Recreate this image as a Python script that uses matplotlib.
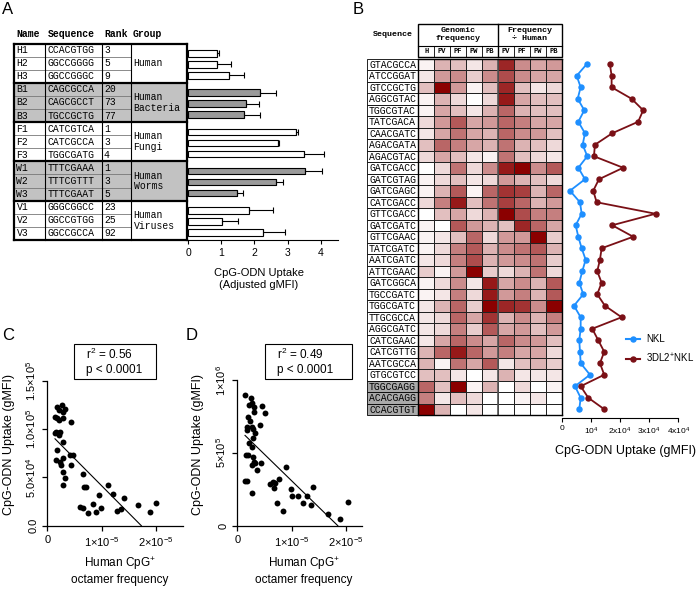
import matplotlib.pyplot as plt
import numpy as np
from matplotlib.patches import Rectangle
from matplotlib.colors import LinearSegmentedColormap
from matplotlib.lines import Line2D

plt.rcParams['font.family'] = ['Liberation Sans', 'DejaVu Sans']
plt.rcParams['mathtext.fontset'] = 'custom'
plt.rcParams['mathtext.rm'] = 'Liberation Sans'
plt.rcParams['mathtext.default'] = 'regular'
MONO = 'Liberation Mono'

# ---------------- Panel A data
names = ["H1", "H2", "H3", "B1", "B2", "B3", "F1", "F2", "F3",
         "W1", "W2", "W3", "V1", "V2", "V3"]
sequences = ["CCACGTGG", "GGCCGGGG", "GGCCGGGC", "CAGCGCCA", "CAGCGCCT", "TGCCGCTG",
             "CATCGTCA", "CATCGCCA", "TGGCGATG", "TTTCGAAA", "TTTCGTTT", "TTTCGAAT",
             "GGGCGGCC", "GGCCGTGG", "GGCCGCCA"]
ranks = [3, 5, 9, 20, 73, 77, 1, 3, 4, 1, 3, 5, 23, 25, 92]
groups = ["Human", "Human\nBacteria", "Human\nFungi", "Human\nWorms", "Human\nViruses"]
uptake = [0.88, 0.88, 1.23, 2.18, 1.73, 1.67, 3.24, 2.70, 3.50,
          3.52, 2.65, 1.47, 1.83, 1.03, 2.26]
uptake_err = [0.05, 0.40, 0.45, 0.47, 0.42, 0.50, 0.07, 0.03, 0.58,
              0.50, 0.22, 0.17, 0.74, 0.46, 0.66]

# ---------------- Panel B data
seqs_b = ["GTACGCCA", "ATCCGGAT", "GTCCGCTG", "AGGCGTAC", "TGGCGTAC", "TATCGACA",
          "CAACGATC", "AGACGATA", "AGACGTAC", "GATCGACC", "GATCGTAG", "GATCGAGC",
          "CATCGACC", "GTTCGACC", "GATCGATC", "GTTCGAAC", "TATCGATC", "AATCGATC",
          "ATTCGAAC", "GATCGGCA", "TGCCGATC", "TGGCGATC", "TTGCGCCA", "AGGCGATC",
          "CATCGAAC", "CATCGTTG", "AATCGCCA", "GTGCGTCC", "TGGCGAGG", "ACACGAGG",
          "CCACGTGT"]
genomic_cols = ["H", "PV", "PF", "PW", "PB"]
ratio_cols = ["PV", "PF", "PW", "PB"]
genomic_freq = [
    [0.05, 0.30, 0.25, 0.10, 0.30], [0.10, 0.40, 0.45, 0.20, 0.45],
    [0.25, 1.00, 0.40, 0.05, 0.25], [0.05, 0.30, 0.15, 0.00, 0.15],
    [0.05, 0.35, 0.25, 0.10, 0.30], [0.15, 0.40, 0.65, 0.35, 0.40],
    [0.10, 0.35, 0.55, 0.35, 0.30], [0.25, 0.60, 0.50, 0.35, 0.30],
    [0.15, 0.35, 0.25, 0.10, 0.05], [0.00, 0.15, 0.55, 0.15, 0.45],
    [0.05, 0.15, 0.25, 0.10, 0.15], [0.05, 0.30, 0.65, 0.05, 0.60],
    [0.15, 0.50, 0.90, 0.25, 0.55], [0.00, 0.25, 0.35, 0.15, 0.30],
    [0.05, 0.00, 0.65, 0.40, 0.30], [0.05, 0.10, 0.25, 0.60, 0.15],
    [0.05, 0.15, 0.50, 0.65, 0.30], [0.10, 0.15, 0.50, 0.70, 0.30],
    [0.20, 0.05, 0.40, 1.00, 0.20], [0.05, 0.15, 0.45, 0.10, 0.90],
    [0.05, 0.10, 0.50, 0.15, 0.90], [0.10, 0.30, 0.60, 0.20, 1.00],
    [0.10, 0.15, 0.60, 0.35, 0.80], [0.10, 0.15, 0.50, 0.20, 0.65],
    [0.10, 0.35, 0.60, 0.45, 0.35], [0.30, 0.60, 0.90, 0.60, 0.40],
    [0.30, 0.05, 0.55, 0.35, 0.65], [0.25, 0.25, 0.10, 0.00, 0.10],
    [0.60, 0.25, 1.00, 0.05, 0.30], [0.50, 0.10, 0.25, 0.15, 0.00],
    [1.00, 0.30, 0.00, 0.10, 0.00]]
freq_ratio = [
    [0.85, 0.45, 0.35, 0.40], [0.70, 0.45, 0.35, 0.35], [0.85, 0.25, 0.10, 0.15],
    [0.90, 0.35, 0.25, 0.25], [0.60, 0.30, 0.25, 0.25], [0.60, 0.50, 0.35, 0.35],
    [0.60, 0.45, 0.40, 0.25], [0.55, 0.30, 0.25, 0.15], [0.55, 0.25, 0.15, 0.10],
    [0.90, 1.00, 0.45, 0.65], [0.40, 0.30, 0.25, 0.15], [0.80, 0.75, 0.30, 0.60],
    [0.75, 0.60, 0.30, 0.40], [1.00, 0.70, 0.50, 0.50], [0.25, 0.85, 0.60, 0.35],
    [0.40, 0.40, 1.00, 0.20], [0.45, 0.55, 0.65, 0.30], [0.40, 0.45, 0.55, 0.20],
    [0.15, 0.30, 0.55, 0.15], [0.35, 0.45, 0.30, 0.65], [0.40, 0.50, 0.30, 0.65],
    [0.85, 0.80, 0.45, 1.00], [0.30, 0.45, 0.30, 0.50], [0.35, 0.40, 0.25, 0.40],
    [0.60, 0.45, 0.40, 0.25], [0.50, 0.35, 0.35, 0.15], [0.10, 0.25, 0.30, 0.20],
    [0.30, 0.10, 0.10, 0.10], [0.00, 0.15, 0.00, 0.05], [0.00, 0.05, 0.10, 0.00],
    [0.00, 0.00, 0.00, 0.00]]
nkl = [8560, 5140, 6500, 5480, 7750, 5700, 7980, 7190, 8780, 5700, 7980, 2840,
       6270, 6850, 4790, 5700, 6850, 8220, 7060, 6030, 7400, 4210, 6510, 6510,
       6030, 6270, 6510, 9690, 4550, 6510, 6030]
dl2_nkl = [16540, 17120, 17120, 23970, 27950, 26230, 17330, 11400, 11060, 21100,
           12770, 10820, 11990, 32190, 17330, 24520, 13700, 13120, 12190, 13700,
           12190, 14830, 20550, 10480, 12530, 14590, 13120, 14590, 6510, 9110, 14590]

# ---------------- Panels C / D data (x in 1e-5)
c_freq = [0.142, 0.184, 0.264, 0.221, 0.294, 0.282, 0.172, 0.221, 0.325, 0.160,
          0.202, 0.233, 0.221, 0.142, 0.294, 0.184, 0.160, 0.233, 0.245, 0.282,
          0.294, 0.325, 0.294, 0.417, 0.429, 0.478, 0.429, 0.662, 0.674, 0.711,
          0.601, 0.650, 0.754, 0.834, 0.895, 0.956, 0.981, 1.121, 1.202, 1.276,
          1.349, 1.410, 1.673, 1.900, 2.010]
c_uptake = [1.131, 1.234, 1.252, 1.200, 1.183, 1.114, 1.114, 1.096, 1.207, 0.975,
            0.958, 0.975, 0.941, 0.958, 0.871, 0.785, 0.682, 0.664, 0.630, 0.699,
            0.560, 0.492, 0.422, 0.733, 1.079, 0.733, 0.630, 0.533, 0.398, 0.398,
            0.191, 0.180, 0.135, 0.222, 0.145, 0.318, 0.180, 0.422, 0.329, 0.152,
            0.170, 0.290, 0.215, 0.145, 0.239]  # x1e5
d_freq = [0.142, 0.246, 0.276, 0.307, 0.221, 0.307, 0.202, 0.233, 0.184, 0.264,
          0.184, 0.294, 0.325, 0.294, 0.221, 0.264, 0.202, 0.294, 0.160, 0.307,
          0.325, 0.264, 0.356, 0.448, 0.509, 0.417, 0.429, 0.142, 0.184, 0.264,
          0.601, 0.650, 0.693, 0.680, 0.724, 0.772, 0.834, 0.895, 0.981, 1.000,
          1.121, 1.202, 1.287, 1.349, 1.397, 1.673, 1.888, 2.030]
d_uptake = [0.897, 0.874, 0.844, 0.817, 0.829, 0.782, 0.744, 0.721, 0.680, 0.680,
            0.657, 0.664, 0.634, 0.600, 0.565, 0.542, 0.485, 0.474, 0.485, 0.440,
            0.428, 0.417, 0.382, 0.822, 0.776, 0.691, 0.433, 0.309, 0.309, 0.227,
            0.284, 0.302, 0.293, 0.257, 0.154, 0.318, 0.103, 0.405, 0.250, 0.204,
            0.204, 0.154, 0.204, 0.142, 0.268, 0.080, 0.046, 0.160]  # x1e6

W, H = 696, 589
fig = plt.figure(figsize=(W / 100, H / 100), dpi=100)


def px_axes(x0, y0, x1, y1):
    ax = fig.add_axes([x0 / W, 1 - y1 / H, (x1 - x0) / W, (y1 - y0) / H])
    ax.set_facecolor('none')
    return ax


base = fig.add_axes([0, 0, 1, 1])
base.set_xlim(0, W)
base.set_ylim(H, 0)
base.axis('off')

for lab, (lx, ly) in zip("ABCD", [(2, 10), (353, 9), (2, 335), (186, 335)]):
    base.text(lx, ly, lab, fontsize=12, ha='left', va='center')

# ---------------- Panel A table
tx = [14, 45, 102, 131, 187]
t_top, t_row = 43.5, 13.1
for hx, htxt in zip([16.5, 47.5, 104, 133], ["Name", "Sequence", "Rank", "Group"]):
    base.text(hx, 34, htxt, fontfamily=MONO, fontweight='bold', fontsize=7, va='center')
for g in range(5):
    y0 = t_top + 3 * g * t_row
    fc = '#c2c2c2' if g in (1, 3) else 'white'
    base.add_patch(Rectangle((tx[0], y0), tx[4] - tx[0], 3 * t_row, fc=fc, ec='none'))
    for k in (1, 2):
        base.plot([tx[0], tx[3]], [y0 + k * t_row] * 2, color='#777777', lw=0.6)
    base.text(tx[3] + 2.5, y0 + 1.5 * t_row, groups[g], fontfamily=MONO, fontsize=7,
              va='center', linespacing=1.1)
for xv in tx[1:4]:
    base.plot([xv, xv], [t_top, t_top + 15 * t_row], color='black', lw=0.8)
for g in range(6):
    base.plot([tx[0], tx[4]], [t_top + 3 * g * t_row] * 2, color='black', lw=1.6)
for xv in (tx[0], tx[4]):
    base.plot([xv, xv], [t_top, t_top + 15 * t_row], color='black', lw=1.6)
for i in range(15):
    yc = t_top + (i + 0.5) * t_row
    base.text(tx[0] + 2.5, yc, names[i], fontfamily=MONO, fontsize=7, va='center')
    base.text(tx[1] + 2.5, yc, sequences[i], fontfamily=MONO, fontsize=7, va='center')
    base.text(tx[2] + 2, yc, str(ranks[i]), fontfamily=MONO, fontsize=7, va='center')

# ---------------- Panel A bars
axA = px_axes(188, 43.5, 337.6, 240)
ypos = [g * 3.57 + i for g in range(5) for i in range(3)]
bar_fc = ['#9a9a9a' if (k // 3) in (1, 3) else 'white' for k in range(15)]
axA.barh(ypos, uptake, height=0.6, color=bar_fc, edgecolor='black', linewidth=0.8)
axA.errorbar(uptake, ypos, xerr=[np.zeros(15), uptake_err], fmt='none',
             ecolor='black', elinewidth=0.8, capsize=2, capthick=0.8)
axA.set_xlim(0, 4.5)
axA.set_ylim(16.97, -0.89)
for s in ('top', 'right', 'left'):
    axA.spines[s].set_visible(False)
axA.spines['bottom'].set_linewidth(0.8)
axA.set_yticks([])
axA.set_xticks([0, 1, 2, 3, 4])
axA.tick_params(axis='x', length=3, width=0.8, labelsize=7.5, pad=3)
axA.set_xlabel("CpG-ODN Uptake\n(Adjusted gMFI)", fontsize=8, linespacing=1.15)
axA.xaxis.set_label_coords(0.475, -0.145)

# ---------------- Panel B heatmap
hx0, hx1 = 418.3, 561.7
r_top, r_h = 58.5, 11.5
nrow = len(seqs_b)
cw = (hx1 - hx0) / 9
base.add_patch(Rectangle((hx0, 24), hx1 - hx0, 33.3, fc='white', ec='black', lw=1.0))
base.plot([hx0, hx1], [46, 46], color='black', lw=0.8)
for j in range(1, 9):
    base.plot([hx0 + j * cw] * 2, [46, 57.3], color='black', lw=0.6)
base.plot([hx0 + 5 * cw] * 2, [24, 57.3], color='black', lw=1.0)
base.text(hx0 + 2.5 * cw, 35, "Genomic\nfrequency", fontfamily=MONO, fontweight='bold',
          fontsize=6, ha='center', va='center', linespacing=1.2)
base.text(hx0 + 7 * cw, 35, "Frequency\n÷ Human", fontfamily=MONO, fontweight='bold',
          fontsize=6, ha='center', va='center', linespacing=1.2)
base.text(392.5, 34.7, "Sequence", fontfamily=MONO, fontweight='bold', fontsize=6,
          ha='center', va='center')
for j, c in enumerate(genomic_cols + ratio_cols):
    base.text(hx0 + (j + 0.5) * cw, 51.8, c, fontfamily=MONO, fontweight='bold',
              fontsize=5, ha='center', va='center')
for i, s in enumerate(seqs_b):
    y0 = r_top + i * r_h
    fc = '#a9a9a9' if i >= nrow - 3 else 'white'
    base.add_patch(Rectangle((366.7, y0), hx0 - 366.7, r_h, fc=fc, ec='black', lw=0.6))
    base.text(392.5, y0 + r_h / 2 + 0.3, s, fontfamily=MONO, fontsize=7,
              ha='center', va='center')

heat = np.hstack([np.array(genomic_freq), np.array(freq_ratio)])
cmap = LinearSegmentedColormap.from_list('wr', ['#ffffff', '#8b0000'])
axH = px_axes(hx0, r_top, hx1, r_top + nrow * r_h)
axH.pcolormesh(heat, cmap=cmap, vmin=0, vmax=1, edgecolors='#222222', linewidth=0.6)
axH.set_ylim(nrow, 0)
axH.set_xlim(0, 9)
axH.axvline(5, color='#555555', lw=1.2)
axH.set_xticks([])
axH.set_yticks([])
for s in axH.spines.values():
    s.set_linewidth(1.0)

# ---------------- Panel B lines
blue, maroon = '#1e8fff', '#7a1016'
axL = px_axes(hx1, r_top, 678.3, 418.3)
rows = np.arange(nrow)
axL.plot(nkl, rows, color=blue, marker='o', ms=3.6, lw=1.3, clip_on=False)
axL.plot(dl2_nkl, rows, color=maroon, marker='o', ms=3.6, lw=1.3, clip_on=False)
axL.set_xlim(0, 4e4)
axL.set_ylim((418.3 - r_top) / r_h - 0.5, -0.5)
for s in ('top', 'right', 'left'):
    axL.spines[s].set_visible(False)
axL.spines['bottom'].set_linewidth(0.8)
axL.set_yticks([])
axL.set_xticks([0, 1e4, 2e4, 3e4, 4e4])
axL.set_xticklabels(['0', '$10^4$', '2x$10^4$', '3x$10^4$', '4x$10^4$'])
axL.tick_params(axis='x', length=3, width=0.8, labelsize=6, pad=2)
axL.set_xlabel("CpG-ODN Uptake (gMFI)", fontsize=9)
axL.xaxis.set_label_coords(0.543, -0.075)
handles = [Line2D([], [], color=blue, marker='o', ms=3.6, lw=1.5, label='NKL'),
           Line2D([], [], color=maroon, marker='o', ms=3.6, lw=1.5, label='3DL2$^{+}$NKL')]
fig.legend(handles=handles, loc='center left', bbox_to_anchor=(617 / W, 1 - 349.5 / H),
           frameon=False, fontsize=7, handlelength=1.5, handletextpad=0.6, labelspacing=0.7)


# ---------------- Panels C / D scatter
def scatter_panel(ax, x, y, yscale, ylim, yticks, yticklabels, xmax):
    x = np.array(x) * 1e-5
    y = np.array(y) * yscale
    ax.scatter(x, y, s=18, color='black', clip_on=False, zorder=3, linewidths=0)
    slope, icpt = np.polyfit(x, y, 1)
    xs = np.array([x.min(), -icpt / slope])
    ax.plot(xs, slope * xs + icpt, color='black', lw=0.8)
    ax.set_xlim(0, xmax)
    ax.set_ylim(0, ylim)
    for s in ('top', 'right'):
        ax.spines[s].set_visible(False)
    for s in ('left', 'bottom'):
        ax.spines[s].set_linewidth(0.9)
    ax.set_xticks([0, 1e-5, 2e-5])
    ax.set_xticklabels(['0', '1×10$^{-5}$', '2×10$^{-5}$'])
    ax.set_yticks(yticks)
    ax.set_yticklabels(yticklabels, rotation=90, va='center')
    ax.tick_params(length=3.5, width=0.9, labelsize=8, pad=3)
    ax.set_xlabel("Human CpG$^{+}$\noctamer frequency", fontsize=8.5, linespacing=1.15)
    ax.set_ylabel("CpG-ODN Uptake (gMFI)", fontsize=9)


axC = px_axes(47.3, 381, 183, 525.7)
scatter_panel(axC, c_freq, c_uptake, 1e5, 1.5e5, [0, 5e4, 1e5, 1.5e5],
              ['0.0', '5.0×10$^4$', '1.0×10$^5$', '1.5×10$^5$'], 2.5e-5)
axC.xaxis.set_label_coords(0.536, -0.205)
axC.yaxis.set_label_coords(-0.235, 0.558)

axD = px_axes(237.3, 380, 362.4, 525.7)
scatter_panel(axD, d_freq, d_uptake, 1e6, 1e6, [0, 5e5, 1e6],
              ['0', '5×10$^5$', '1×10$^6$'], 2.3e-5)
axD.xaxis.set_label_coords(0.53, -0.205)
axD.yaxis.set_label_coords(-0.27, 0.554)

for (bx0, bx1), txt in zip([(74, 156), (265, 352)],
                           ["r$^2$ = 0.56\np < 0.0001", "r$^2$ = 0.49\np < 0.0001"]):
    base.add_patch(Rectangle((bx0, 344), bx1 - bx0, 35, fc='white', ec='black', lw=0.8))
    base.text(bx0 + 12, 361.5, txt, fontsize=8.5, ha='left', va='center', linespacing=1.3)

fig.savefig("out.png", dpi=100)
